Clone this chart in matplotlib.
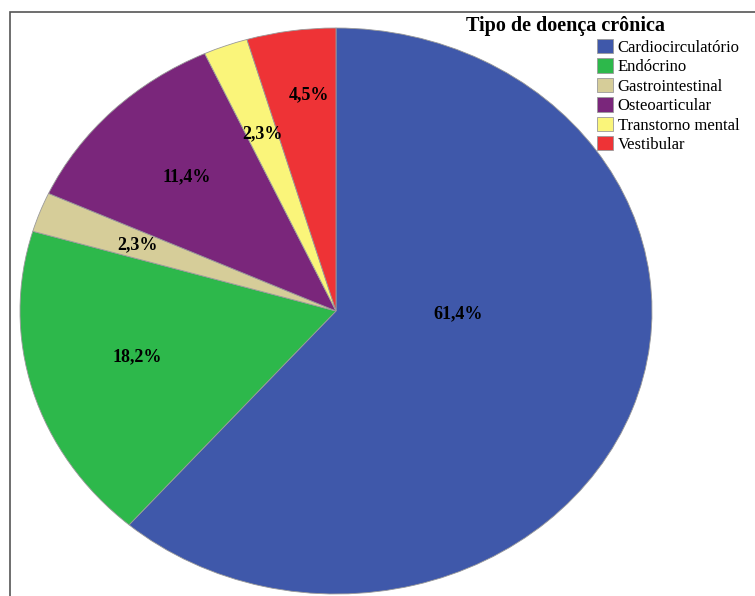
import matplotlib
matplotlib.use("Agg")
import matplotlib.pyplot as plt
from matplotlib.patches import Rectangle

# Data: number of patients per chronic disease type (n = 44)
categories = ['Cardiocirculatório', 'Endócrino', 'Gastrointestinal',
              'Osteoarticular', 'Transtorno mental', 'Vestibular']
counts = [27, 8, 1, 5, 1, 2]
colors = ['#3F58AA', '#2DB84B', '#D6CD99', '#7A267B', '#FAF57A', '#EE3336']

plt.rcParams['font.family'] = ['Liberation Serif', 'DejaVu Serif']

fig = plt.figure(figsize=(7.55, 5.96), dpi=100)

# pie axes stretched so the pie comes out slightly elliptical, like the original
ax = fig.add_axes([20 / 755, 2 / 596, 632 / 755, 566 / 596])
wedges, texts, autotexts = ax.pie(
    counts, colors=colors, startangle=90, counterclock=False,
    autopct=lambda p: f'{p:.1f}%'.replace('.', ','), pctdistance=0.67,
    wedgeprops=dict(edgecolor='#9a9a9a', linewidth=0.6),
    textprops=dict(fontsize=13, fontweight='bold', color='black'))
ax.set_aspect('auto')
ax.set_xlim(-1, 1)
ax.set_ylim(-1, 1)
# a few labels sit elsewhere in the original
autotexts[0].set_position((0.385, -0.01))
autotexts[1].set_position((-0.63, -0.16))
autotexts[5].set_position((-0.085, 0.765))

# outer frame (only top and left edges visible)
fig.add_artist(Rectangle((10 / 755, -0.1), 1.2, 0.1 + 584 / 596,
                         transform=fig.transFigure, fill=False,
                         edgecolor='#555555', linewidth=1.2))

fig.text(565 / 755, 1 - 26 / 596, 'Tipo de doença crônica', ha='center',
         va='center', fontsize=14.5, fontweight='bold')
fig.legend(wedges, categories, loc='upper left',
           bbox_to_anchor=(597 / 755, 1 - 39 / 596), frameon=False,
           fontsize=12, handlelength=0.95, handleheight=0.95,
           handletextpad=0.3, labelspacing=0.15, borderpad=0,
           borderaxespad=0)

fig.savefig('out.png', dpi=100)
